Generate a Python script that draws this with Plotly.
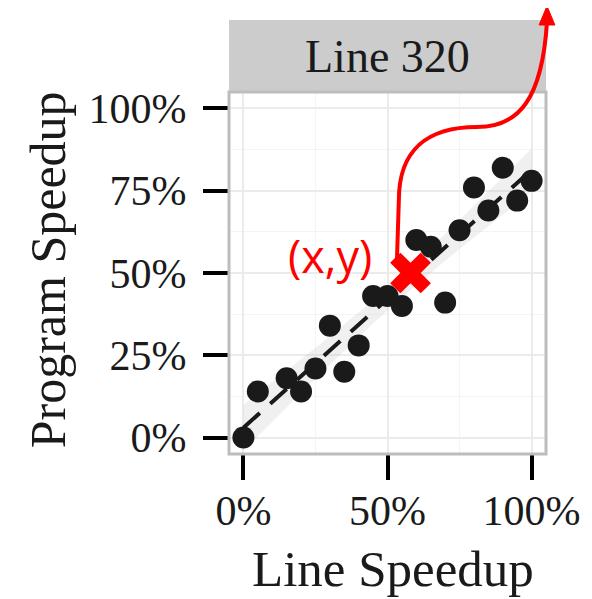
import numpy as np
import plotly.graph_objects as go

# ---- data ----
line_speedup = [0, 5, 15, 20, 25, 30, 35, 40, 45, 50, 55, 60, 65, 70, 75, 80, 85, 90, 95, 100]
program_speedup = [0, 14, 18, 14, 21, 34, 20, 28, 43, 43, 40, 60, 58, 41, 63, 76, 69, 82, 72, 78]
highlight_x = [58]
highlight_y = [50]
tick_vals = [0, 50, 100]
tick_text = ["0%", "50%", "100%"]
ytick_vals = [0, 25, 50, 75, 100]
ytick_text = ["0%", "25%", "50%", "75%", "100%"]
facet_label = "Line 320"

# ---- linear fit with 95% CI (like geom_smooth(method='lm')) ----
x = np.array(line_speedup, float)
y = np.array(program_speedup, float)
n = len(x)
b1, b0 = np.polyfit(x, y, 1)
resid = y - (b0 + b1 * x)
s = np.sqrt(np.sum(resid ** 2) / (n - 2))
xs = np.linspace(x.min(), x.max(), 80)
yfit = b0 + b1 * xs
se = s * np.sqrt(1 / n + (xs - x.mean()) ** 2 / np.sum((x - x.mean()) ** 2))
tval = 2.101
upper = yfit + tval * se
lower = yfit - tval * se

# ---- layout geometry (screen pixels; page body has an 8px margin) ----
OFF = 8
W, H = 592 - OFF, 599 - OFF
L, T = 229 - OFF, 92 - OFF
PR, PB = 550 - OFF, 454 - OFF      # panel right / bottom in figure pixels
R, B = W - PR, H - PB
pw, ph = PR - L, PB - T


def px(xs_):
    return (xs_ - OFF - L) / pw


def py(ys_):
    return (PB - (ys_ - OFF)) / ph


fig = go.Figure()
fig.add_trace(go.Scatter(x=np.concatenate([xs, xs[::-1]]), y=np.concatenate([upper, lower[::-1]]),
                         fill="toself", fillcolor="rgba(200,200,200,0.28)", line=dict(width=0),
                         hoverinfo="skip", showlegend=False))
fig.add_trace(go.Scatter(x=xs, y=yfit, mode="lines",
                         line=dict(color="#1a1a1a", width=4, dash="22px,14px"), showlegend=False))
fig.add_trace(go.Scatter(x=line_speedup, y=program_speedup, mode="markers",
                         marker=dict(color="#1a1a1a", size=22, line=dict(width=0)), showlegend=False))
fig.add_trace(go.Scatter(x=highlight_x, y=highlight_y, mode="markers",
                         marker=dict(color="#ff0000", size=36, symbol="x", line=dict(width=0)),
                         showlegend=False))

serif = "Liberation Serif, Times New Roman, serif"

# strip
fig.add_shape(type="rect", xref="paper", yref="paper", x0=0, x1=1, y0=1, y1=py(20),
              fillcolor="#cccccc", line=dict(width=0), layer="below")
# panel border
fig.add_shape(type="rect", xref="paper", yref="paper", x0=0, x1=1, y0=0, y1=1,
              fillcolor="rgba(0,0,0,0)", line=dict(color="#bdbdbd", width=3), layer="above")

# red curved arrow
curve = (f"M {px(399)},{py(262)} L {px(401)},{py(200)} "
         f"C {px(401)},{py(150)} {px(430)},{py(127)} {px(480)},{py(127)} "
         f"C {px(522)},{py(127)} {px(546)},{py(100)} {px(551)},{py(22)}")
fig.add_shape(type="path", xref="paper", yref="paper", path=curve,
              line=dict(color="#ff0000", width=4), layer="above")
head = f"M {px(543)},{py(25)} L {px(559)},{py(25)} L {px(551)},{py(6)} Z"
fig.add_shape(type="path", xref="paper", yref="paper", path=head,
              fillcolor="#ff0000", line=dict(color="#ff0000", width=1), layer="above")

fig.add_annotation(text="(x,y)", xref="paper", yref="paper", x=px(331), y=py(255),
                   showarrow=False, font=dict(family="Open Sans, sans-serif", size=45, color="#ff0000"),
                   xanchor="center", yanchor="middle")
fig.add_annotation(text=facet_label, xref="paper", yref="paper", x=0.5, y=py(57),
                   showarrow=False, font=dict(family=serif, size=46, color="#1a1a1a"),
                   xanchor="center", yanchor="middle")
fig.add_annotation(text="Line Speedup", xref="paper", yref="paper", x=px(395), y=py(569),
                   showarrow=False, font=dict(family=serif, size=51, color="#1a1a1a"),
                   xanchor="center", yanchor="middle")
fig.add_annotation(text="Program Speedup", xref="paper", yref="paper", x=px(46), y=py(270),
                   showarrow=False, textangle=-90, font=dict(family=serif, size=50, color="#1a1a1a"),
                   xanchor="center", yanchor="middle")

axis_common = dict(showgrid=True, gridcolor="#ebebeb", gridwidth=2, zeroline=False,
                   ticks="outside", ticklen=25, tickwidth=4, tickcolor="#000000",
                   tickfont=dict(family=serif, size=42, color="#1a1a1a"),
                   showline=False, fixedrange=True)
fig.update_xaxes(range=[-5, 105], tickvals=tick_vals, ticktext=tick_text, ticklabelstandoff=-5,
                 minor=dict(tickvals=[25, 75], showgrid=True, gridcolor="#f4f4f4", gridwidth=1, ticks=""),
                 **axis_common)
fig.update_yaxes(range=[-5, 105], tickvals=ytick_vals, ticktext=ytick_text, ticklabelstandoff=8,
                 minor=dict(tickvals=[12.5, 37.5, 62.5, 87.5], showgrid=True, gridcolor="#f4f4f4",
                            gridwidth=1, ticks=""),
                 **axis_common)

fig.update_layout(width=W, height=H, margin=dict(l=L, r=R, t=T, b=B, pad=0),
                  plot_bgcolor="white", paper_bgcolor="white", showlegend=False)

fig.write_html("out.html")
